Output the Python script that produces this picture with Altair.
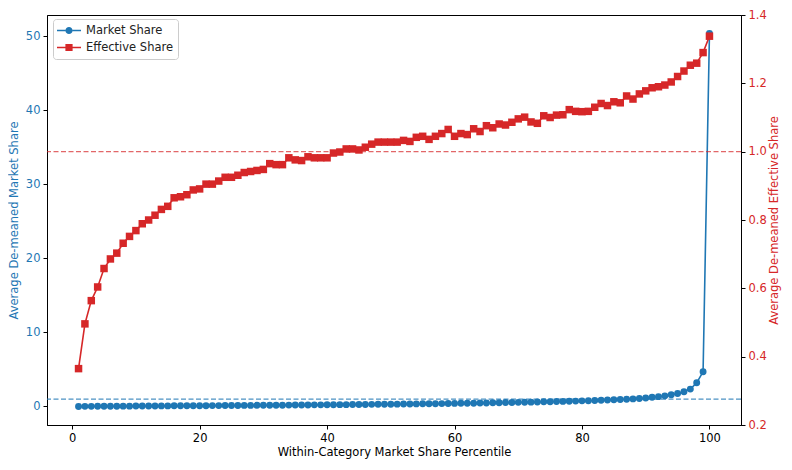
import altair as alt
import pandas as pd

BLUE = "#1f77b4"
RED = "#d62728"

percentile = list(range(1, 101))

market_share = [
    0.01, 0.02, 0.02, 0.03, 0.03, 0.04, 0.04, 0.05, 0.05, 0.06,
    0.06, 0.07, 0.07, 0.08, 0.08, 0.09, 0.09, 0.10, 0.10, 0.11,
    0.11, 0.12, 0.12, 0.13, 0.13, 0.14, 0.15, 0.15, 0.16, 0.16,
    0.17, 0.18, 0.18, 0.19, 0.20, 0.20, 0.21, 0.22, 0.22, 0.23,
    0.24, 0.25, 0.25, 0.26, 0.27, 0.28, 0.29, 0.30, 0.30, 0.31,
    0.32, 0.33, 0.34, 0.35, 0.36, 0.37, 0.38, 0.39, 0.40, 0.42,
    0.43, 0.44, 0.45, 0.47, 0.48, 0.50, 0.51, 0.53, 0.54, 0.56,
    0.58, 0.59, 0.61, 0.63, 0.65, 0.67, 0.69, 0.71, 0.73, 0.76,
    0.78, 0.81, 0.84, 0.87, 0.90, 0.94, 0.98, 1.03, 1.09, 1.16,
    1.24, 1.33, 1.44, 1.58, 1.76, 2.00, 2.35, 3.20, 4.70, 50.40,
]

effective_share = [
    0.365, 0.496, 0.564, 0.604, 0.658, 0.686, 0.703, 0.732, 0.752, 0.769,
    0.789, 0.800, 0.814, 0.831, 0.840, 0.865, 0.868, 0.874, 0.888, 0.891,
    0.905, 0.905, 0.914, 0.925, 0.925, 0.931, 0.939, 0.942, 0.945, 0.948,
    0.965, 0.962, 0.962, 0.982, 0.976, 0.974, 0.985, 0.982, 0.982, 0.982,
    0.996, 0.999, 1.008, 1.008, 1.005, 1.013, 1.022, 1.028, 1.028, 1.028,
    1.028, 1.033, 1.030, 1.042, 1.045, 1.036, 1.045, 1.053, 1.065, 1.045,
    1.053, 1.050, 1.067, 1.059, 1.076, 1.070, 1.081, 1.078, 1.086, 1.096,
    1.101, 1.087, 1.083, 1.105, 1.100, 1.107, 1.108, 1.123, 1.118, 1.117,
    1.118, 1.130, 1.141, 1.135, 1.146, 1.143, 1.163, 1.154, 1.169, 1.178,
    1.187, 1.190, 1.195, 1.204, 1.220, 1.236, 1.253, 1.259, 1.290, 1.338,
]

series_names = ["Market Share", "Effective Share"]
x_ticks = [0, 20, 40, 60, 80, 100]
left_ticks = [0, 10, 20, 30, 40, 50]
right_ticks = [0.2, 0.4, 0.6, 0.8, 1.0, 1.2, 1.4]
market_ref = [1.0]
effective_ref = [1.0]

df = pd.DataFrame({"percentile": percentile, "market": market_share, "effective": effective_share})
legend_df = pd.DataFrame({"series": series_names})
mref_df = pd.DataFrame({"level": market_ref})
eref_df = pd.DataFrame({"level": effective_ref})

FONT = "DejaVu Sans"
FS = 11.5

x_enc = alt.X(
    "percentile:Q",
    scale=alt.Scale(domain=[-3.95, 104.95], nice=False, zero=False),
    axis=alt.Axis(values=x_ticks, title="Within-Category Market Share Percentile", titleColor="black",
                  labelColor="black", format="d", titlePadding=3),
)

left_axis = alt.Axis(values=left_ticks, title="Average De-meaned Market Share", titleColor=BLUE,
                     labelColor=BLUE, orient="left", format="d", titlePadding=6)
right_axis = alt.Axis(values=right_ticks, title="Average De-meaned Effective Share", titleColor=RED,
                      labelColor=RED, orient="right", format=".1f", titleAngle=270,
                      titleBaseline="top", titlePadding=2)

yL_scale = alt.Scale(domain=[-2.5, 52.9], nice=False, zero=False)
yR_scale = alt.Scale(domain=[0.2, 1.4], nice=False, zero=False)

# Left (market share) layers
m_rule = alt.Chart(mref_df).mark_rule(color=BLUE, strokeDash=[5, 2.5], strokeWidth=1.2, opacity=0.8).encode(
    y=alt.Y("level:Q", scale=yL_scale, axis=left_axis)
)
m_line = alt.Chart(df).mark_line(color=BLUE, strokeWidth=1.6).encode(
    x=x_enc, y=alt.Y("market:Q", scale=yL_scale, axis=left_axis)
)
m_pts = alt.Chart(df).mark_point(filled=True, color=BLUE, size=48, opacity=1, shape="circle").encode(
    x=x_enc, y=alt.Y("market:Q", scale=yL_scale, axis=left_axis)
)

circle_path = ("M-1,-0.07H-0.3V0.07H-1Z M0.3,-0.07H1V0.07H0.3Z "
               "M-0.3,0A0.3,0.3 0 1,0 0.3,0A0.3,0.3 0 1,0 -0.3,0Z")
square_path = "M-1,-0.07H-0.3V0.07H-1Z M0.3,-0.07H1V0.07H0.3Z M-0.3,-0.3H0.3V0.3H-0.3Z"

leg = alt.Legend(title=None, orient="none", legendX=6, legendY=4,
                 padding=4, rowPadding=2, clipHeight=15,
                 strokeColor="#cccccc", fillColor="white", cornerRadius=3,
                 symbolSize=576, symbolStrokeWidth=0, labelOffset=5,
                 labelFontSize=FS, labelFont=FONT, labelColor="#222222")

legend_layer = alt.Chart(legend_df).transform_filter("false").mark_point(filled=True, opacity=1).encode(
    color=alt.Color("series:N", scale=alt.Scale(domain=series_names, range=[BLUE, RED]), legend=leg),
    shape=alt.Shape("series:N", scale=alt.Scale(domain=series_names, range=[circle_path, square_path]),
                    legend=leg),
)

left = alt.layer(m_rule, m_line, m_pts, legend_layer)

# Right (effective share) layers
e_rule = alt.Chart(eref_df).mark_rule(color=RED, strokeDash=[5, 2.5], strokeWidth=1.2, opacity=0.7).encode(
    y=alt.Y("level:Q", scale=yR_scale, axis=right_axis)
)
e_line = alt.Chart(df).mark_line(color=RED, strokeWidth=1.6).encode(
    x=x_enc, y=alt.Y("effective:Q", scale=yR_scale, axis=right_axis)
)
e_pts = alt.Chart(df).mark_point(filled=True, color=RED, size=56, opacity=1, shape="square").encode(
    x=x_enc, y=alt.Y("effective:Q", scale=yR_scale, axis=right_axis)
)
right = alt.layer(e_rule, e_line, e_pts)

chart = alt.layer(left, right).resolve_scale(y="independent").properties(
    width=694,
    height=410,
    autosize=alt.AutoSizeParams(type="none"),
    padding={"left": 39, "top": 7, "right": 43, "bottom": 37},
).configure_view(
    stroke="black", strokeWidth=1
).configure_axis(
    labelFont=FONT, titleFont=FONT, labelFontSize=FS, titleFontSize=FS, titleFontWeight="normal",
    grid=False, domainColor="black", tickColor="black", tickSize=4, labelPadding=3,
).configure_legend(
    labelFont=FONT
)

chart.save("out.html", embed_options={"renderer": "svg", "actions": False})
